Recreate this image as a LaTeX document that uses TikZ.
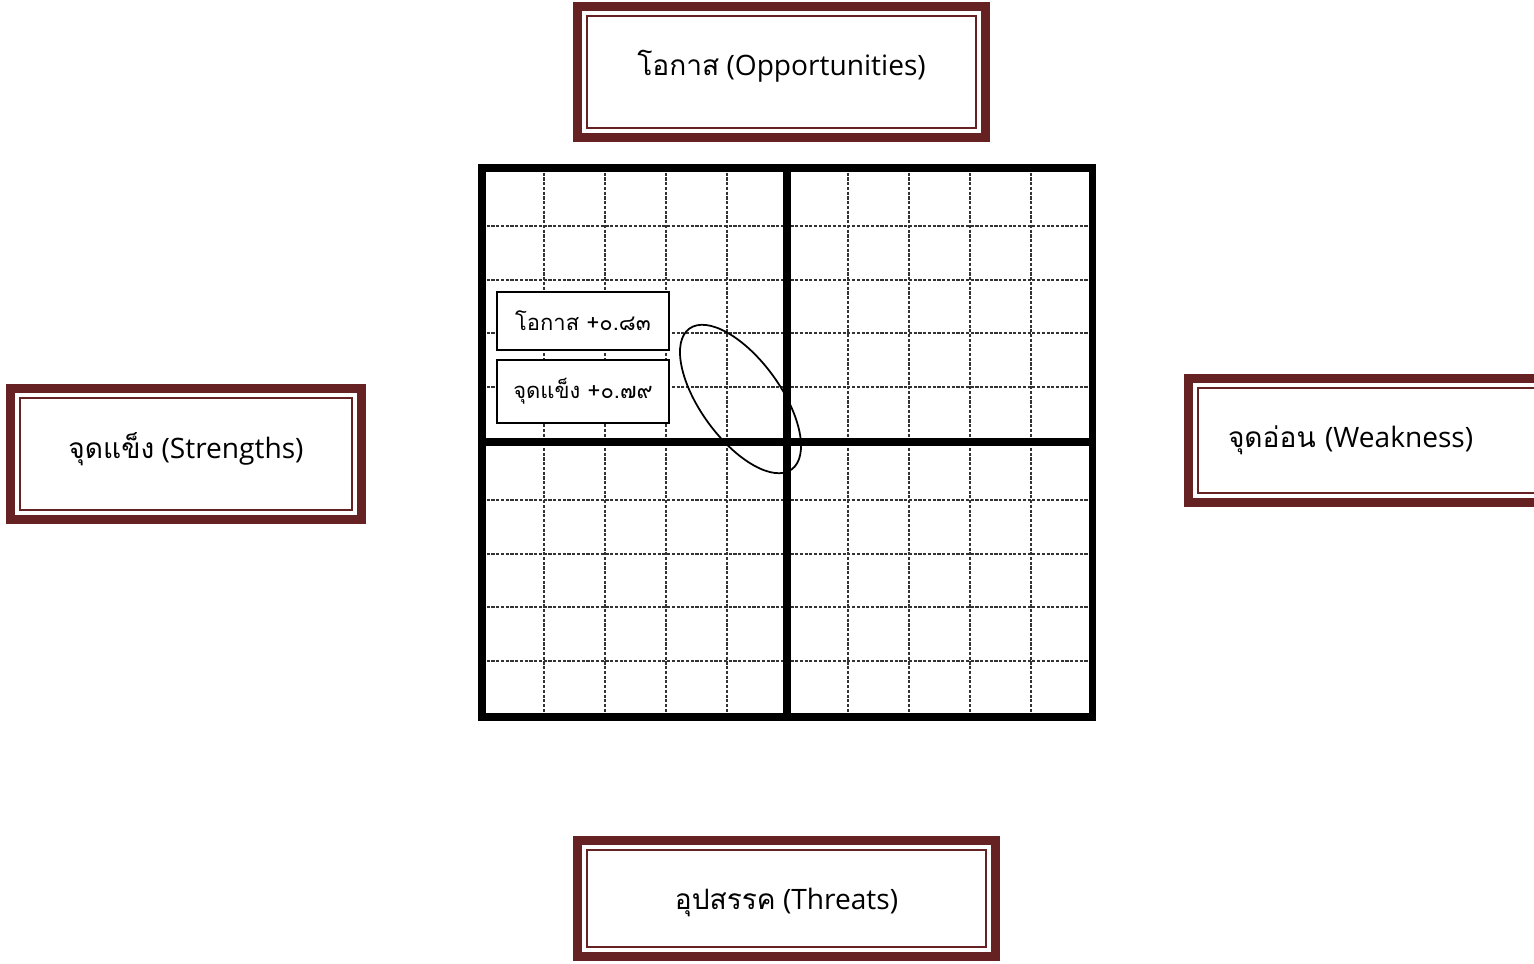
\documentclass[tikz,border=0pt]{standalone}
\usepackage{fontspec}
\setmainfont{Open Sans}
\newfontfamily\thaifont[Script=Thai]{Loma}
\definecolor{swotred}{RGB}{102,34,34}
\newcommand{\liftby}[2]{\raisebox{#1}[\height][\depth]{#2}}

\begin{document}
\begin{tikzpicture}[x=0.02cm, y=-0.02cm,
    swot/.style={draw=swotred, line width=5.1pt, fill=white, outer sep=0pt,
        font=\fontsize{16}{18}\selectfont},
    score/.style={draw, line width=0.9pt, fill=white, minimum width=3.44cm,
        font=\thaifont\fontsize{12.5}{14}\selectfont},
    gridline/.style={black!80, line width=0.6pt, dash pattern=on 1.8pt off 0.9pt},
    bold line/.style={line width=4pt},
    inner frame/.style={swotred, line width=1.1pt}]
    \useasboundingbox (0,0) rectangle (1534,963);
    % dashed grid
    \foreach \x in {544,605,666,727,848,909,970,1031}
        \draw[gridline] (\x,168) -- (\x,717);
    \foreach \y in {226,280,333,387,500,554,607,661}
        \draw[gridline] (482,\y) -- (1092,\y);
    % quadrants
    \draw[bold line] (482,168) rectangle (1092,717);
    \draw[bold line] (787,168) -- (787,717);
    \draw[bold line] (482,442) -- (1092,442);
    % ellipse round the point
    \draw[line width=1pt] (740.5,399) ellipse [x radius=87, y radius=40, rotate=-54];
    % scores
    \node[score, minimum height=1.16cm] (opscore) at (583,321) {โอกาส +๐.๘๓};
    \node[score, minimum height=1.26cm] (stscore) at (583,391.5) {จุดแข็ง +๐.๗๙};
    % the four sides
    \node[swot, minimum width=8.16cm, minimum height=2.62cm] (opp) at (781.5,72)
        {\liftby{3.4pt}{{\thaifont โอกาส} (Opportunities)}};
    \node[swot, minimum width=7.02cm, minimum height=2.62cm] (str) at (186,454)
        {\liftby{2.8pt}{{\thaifont จุดแข็ง} (Strengths)}};
    \node[swot, minimum height=2.48cm, inner xsep=0.79cm, text width=6.02cm, align=left,
        anchor=west] (wea) at (1188.5,440.5) {{\thaifont จุดอ่อน} (Weakness)};
    \node[swot, minimum width=8.36cm, minimum height=2.32cm] (thr) at (786.5,898.5)
        {\liftby{-2.3pt}{{\thaifont อุปสรรค} (Threats)}};
    \foreach \n in {opp,str,wea,thr}
        \draw[inner frame] ([shift={(9.5,9.5)}]\n.north west) rectangle ([shift={(-9.5,-9.5)}]\n.south east);
\end{tikzpicture}
\end{document}
